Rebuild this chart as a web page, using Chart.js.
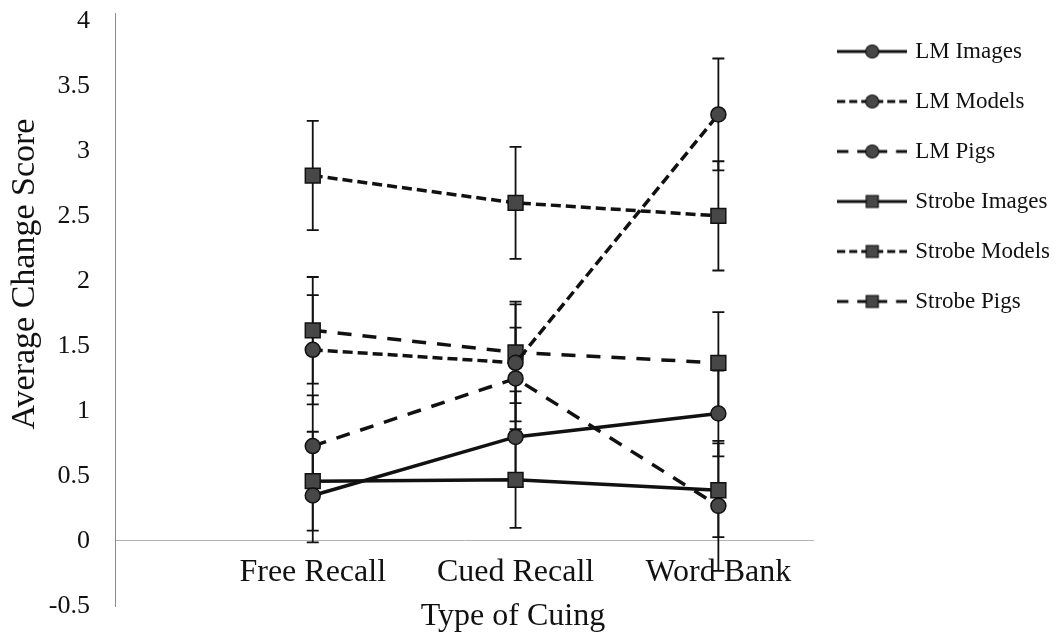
<!DOCTYPE html>
<html>
<head>
<meta charset="utf-8">
<title>Average Change Score by Type of Cuing</title>
<script src="https://cdn.jsdelivr.net/npm/chart.js"></script>
<style>
  html, body { margin: 0; padding: 0; background: #fff; }
  #wrap { width: 1060px; height: 639px; position: relative; }
</style>
</head>
<body>
<div id="wrap"><canvas id="myChart"></canvas></div>
<script>
'use strict';

// categories, titles and tick labels
let categories = ['Free Recall', 'Cued Recall', 'Word Bank'];
let yTicks = [-0.5, 0, 0.5, 1, 1.5, 2, 2.5, 3, 3.5, 4];
let xTitle = 'Type of Cuing';
let yTitle = 'Average Change Score';

// means
let lmImages = [0.35, 0.80, 0.98];
let lmModels = [1.47, 1.37, 3.28];
let lmPigs = [0.73, 1.25, 0.27];
let strobeImages = [0.46, 0.47, 0.39];
let strobeModels = [2.81, 2.60, 2.50];
let strobePigs = [1.62, 1.45, 1.37];

// error bar half lengths
let lmImagesErr = [0.36, 0.35, 0.33];
let lmModelsErr = [0.42, 0.45, 0.43];
let lmPigsErr = [0.39, 0.39, 0.50];
let strobeImagesErr = [0.38, 0.37, 0.36];
let strobeModelsErr = [0.42, 0.43, 0.42];
let strobePigsErr = [0.41, 0.39, 0.39];

let solid = [];
let shortDash = [10, 5];
let longDash = [14, 11];

let serif = '"Liberation Serif", "Times New Roman", serif';
Chart.defaults.font.family = serif;
Chart.defaults.color = '#111';

function makeSeries(label, values, errors, dash, shape) {
  return {
    label: label,
    data: values.map((v, i) => ({x: i, y: v})),
    errors: errors,
    borderColor: '#111',
    borderWidth: 3.5,
    borderDash: dash,
    fill: false,
    tension: 0,
    pointStyle: shape,
    pointRadius: shape === 'rect' ? 10.5 : 7.5,
    pointBackgroundColor: '#474747',
    pointBorderColor: '#111',
    pointBorderWidth: 1.5
  };
}

let datasets = [
  makeSeries('LM Images', lmImages, lmImagesErr, solid, 'circle'),
  makeSeries('LM Models', lmModels, lmModelsErr, shortDash, 'circle'),
  makeSeries('LM Pigs', lmPigs, lmPigsErr, longDash, 'circle'),
  makeSeries('Strobe Images', strobeImages, strobeImagesErr, solid, 'rect'),
  makeSeries('Strobe Models', strobeModels, strobeModelsErr, shortDash, 'rect'),
  makeSeries('Strobe Pigs', strobePigs, strobePigsErr, longDash, 'rect')
];

// little line + marker picture for each legend entry
function legendSample(ds) {
  let c = document.createElement('canvas');
  c.width = 70;
  c.height = 22;
  let g = c.getContext('2d');
  g.strokeStyle = ds.borderColor;
  g.lineWidth = 3;
  g.setLineDash(ds.borderDash.map(d => d * 0.8));
  g.beginPath();
  g.moveTo(0, 11);
  g.lineTo(35, 11);
  g.moveTo(70, 11);
  g.lineTo(35, 11);
  g.stroke();
  g.setLineDash([]);
  g.fillStyle = ds.pointBackgroundColor;
  g.strokeStyle = ds.pointBorderColor;
  g.lineWidth = 1.2;
  g.beginPath();
  if (ds.pointStyle === 'rect') {
    g.rect(29, 5, 12, 12);
  } else {
    g.arc(35, 11, 6.5, 0, Math.PI * 2);
  }
  g.fill();
  g.stroke();
  return c;
}

let errorBars = {
  id: 'errorBars',
  beforeDatasetsDraw(chart) {
    let ctx = chart.ctx;
    let yScale = chart.scales.y;
    ctx.save();
    ctx.strokeStyle = '#111';
    ctx.lineWidth = 1.8;
    chart.data.datasets.forEach((ds, d) => {
      let meta = chart.getDatasetMeta(d);
      meta.data.forEach((pt, i) => {
        let top = yScale.getPixelForValue(ds.data[i].y + ds.errors[i]);
        let bottom = yScale.getPixelForValue(ds.data[i].y - ds.errors[i]);
        ctx.beginPath();
        ctx.moveTo(pt.x, top);
        ctx.lineTo(pt.x, bottom);
        ctx.moveTo(pt.x - 6, top);
        ctx.lineTo(pt.x + 6, top);
        ctx.moveTo(pt.x - 6, bottom);
        ctx.lineTo(pt.x + 6, bottom);
        ctx.stroke();
      });
    });
    ctx.restore();
  }
};

// axis titles sit off-centre in the original, so place them by hand
let axisTitles = {
  id: 'axisTitles',
  afterDraw(chart) {
    let ctx = chart.ctx;
    ctx.save();
    ctx.fillStyle = '#111';
    ctx.textAlign = 'center';
    ctx.textBaseline = 'alphabetic';
    ctx.font = '32px ' + serif;
    ctx.fillText(xTitle, 513, 625);
    ctx.font = '34px ' + serif;
    ctx.translate(34, 274);
    ctx.rotate(-Math.PI / 2);
    ctx.fillText(yTitle, 0, 0);
    ctx.restore();
  }
};

let ctx = document.getElementById('myChart').getContext('2d');
let myChart = new Chart(ctx, {
  type: 'line',
  data: {datasets: datasets},
  plugins: [errorBars, axisTitles],
  options: {
    responsive: true,
    maintainAspectRatio: false,
    animation: false,
    layout: {padding: {top: 13, bottom: 33, left: 0, right: 0}},
    plugins: {
      tooltip: {enabled: false},
      legend: {
        position: 'right',
        align: 'start',
        labels: {
          usePointStyle: true,
          pointStyleWidth: 63,
          padding: 27,
          color: '#111',
          font: {size: 23},
          generateLabels(chart) {
            return chart.data.datasets.map((ds, i) => ({
              text: ds.label,
              pointStyle: legendSample(ds),
              fontColor: '#111',
              hidden: false,
              lineWidth: 0,
              datasetIndex: i
            }));
          }
        }
      }
    },
    scales: {
      x: {
        type: 'linear',
        position: {y: 0},
        min: -0.975,
        max: 2.47,
        afterBuildTicks(scale) {
          scale.ticks = categories.map((c, i) => ({value: i}));
        },
        ticks: {
          padding: 16,
          font: {size: 32, lineHeight: 1},
          callback: value => categories[value]
        },
        grid: {drawOnChartArea: false, drawTicks: false},
        border: {display: true, color: '#b4b4b4', width: 1, dash: [2, 3]}
      },
      y: {
        type: 'linear',
        min: -0.5,
        max: 4.06,
        afterBuildTicks(scale) {
          scale.ticks = yTicks.map(v => ({value: v}));
        },
        afterFit(scale) {
          scale.width = 115;
        },
        ticks: {
          padding: 0,
          font: {size: 26, lineHeight: 1},
          callback: value => String(value)
        },
        grid: {drawOnChartArea: false, drawTicks: true, tickLength: 25, tickColor: 'rgba(0,0,0,0)'},
        border: {display: true, color: '#8a8a8a', width: 1}
      }
    }
  }
});
</script>
</body>
</html>
